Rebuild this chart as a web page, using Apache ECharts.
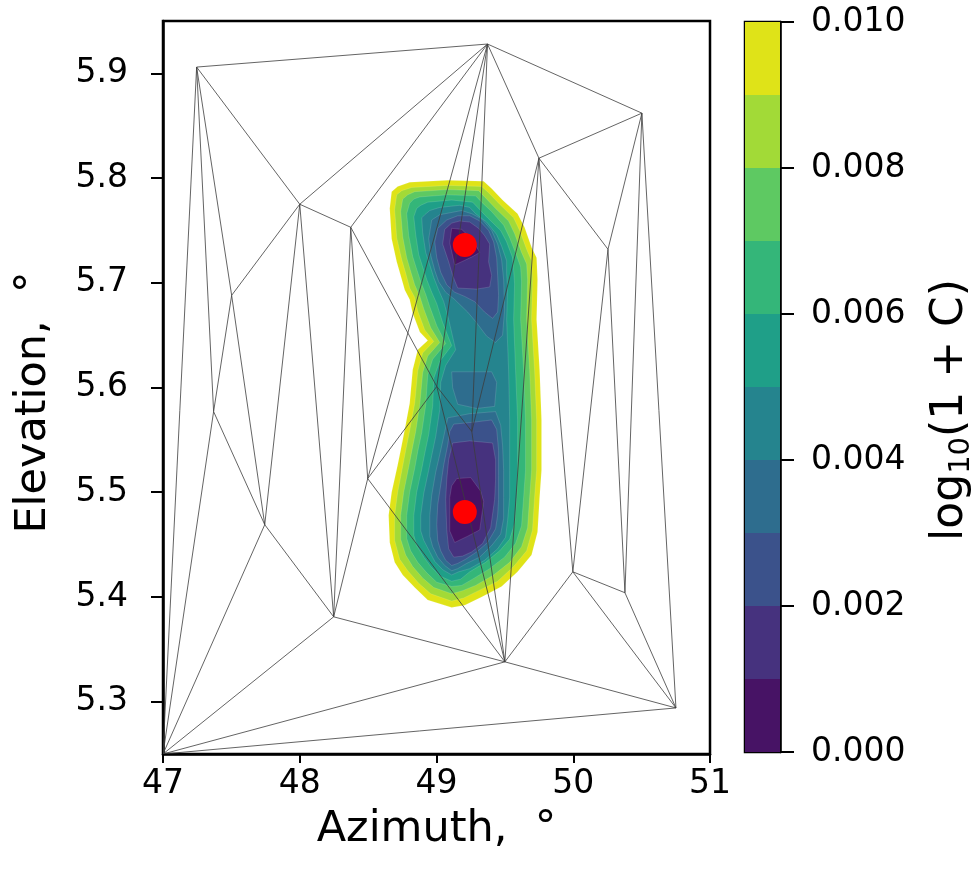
<!DOCTYPE html>
<html><head><meta charset="utf-8">
<script src="https://cdn.jsdelivr.net/npm/echarts@6/dist/echarts.min.js"></script>
<style>html,body{margin:0;padding:0;background:#fff}#c{width:977px;height:878px}</style>
</head><body><div id="c"></div>
<script>
// ---------- axis ticks ----------
const xTicks = [47, 48, 49, 50, 51];
const yTicks = [5.3, 5.4, 5.5, 5.6, 5.7, 5.8, 5.9];
const cbTicks = [0, 0.002, 0.004, 0.006, 0.008, 0.010];
// ---------- contour levels and colours (log10(1+C)) ----------
const levels = [0, 0.001, 0.002, 0.003, 0.004, 0.005, 0.006, 0.007, 0.008, 0.009, 0.010];
const bandColors = ['#471365', '#46327e', '#3b528b', '#2e6d8e', '#25848e', '#1f9f88', '#34b679', '#5ec962', '#a2da37', '#dfe318'];
// ---------- triangulation mesh (azimuth, elevation) ----------
const meshAz = [47.0, 47.246, 49.373, 50.502, 49.749, 48.0, 48.373, 47.502, 50.254, 47.370, 49.002, 49.258, 48.497, 47.744, 49.997, 50.378, 48.248, 49.50, 50.751];
const meshEl = [5.25, 5.906, 5.928, 5.862, 5.819, 5.775, 5.753, 5.688, 5.732, 5.577, 5.601, 5.558, 5.513, 5.469, 5.424, 5.404, 5.381, 5.338, 5.294];
const meshEdges = [
  [0,1],[0,9],[0,13],[0,16],[0,17],[0,18],
  [1,2],[1,5],[1,7],[1,9],
  [5,2],[5,6],[5,7],[5,13],[5,16],
  [6,2],[6,16],[6,12],[6,10],
  [7,9],[7,13],[9,13],[13,16],
  [16,12],[16,17],
  [12,2],[12,10],[12,17],
  [10,2],[10,11],[10,17],
  [11,2],[11,4],[11,17],
  [4,2],[4,3],[4,8],[4,17],[4,14],
  [3,2],[3,8],[3,15],[3,18],
  [8,14],[8,15],
  [17,14],[17,18],[14,15],[14,18],[15,18]
];
// ---------- source positions ----------
const peakAz = [49.207, 49.207];
const peakEl = [5.736, 5.481];
// ---------- filled contour boundaries (azimuth, elevation) ----------
const level010 = [[48.672,5.787],[48.716,5.792],[48.804,5.796],[49.082,5.798],[49.345,5.797],[49.403,5.790],[49.483,5.779],[49.593,5.766],[49.644,5.753],[49.695,5.734],[49.732,5.724],[49.739,5.703],[49.732,5.665],[49.754,5.617],[49.768,5.569],[49.768,5.521],[49.754,5.495],[49.739,5.462],[49.695,5.440],[49.593,5.424],[49.476,5.410],[49.330,5.400],[49.206,5.392],[49.111,5.390],[48.936,5.397],[48.841,5.409],[48.753,5.421],[48.694,5.433],[48.658,5.452],[48.650,5.478],[48.672,5.500],[48.716,5.526],[48.738,5.540],[48.768,5.560],[48.804,5.585],[48.826,5.617],[48.863,5.636],[48.936,5.645],[48.878,5.653],[48.826,5.671],[48.804,5.684],[48.768,5.693],[48.738,5.707],[48.709,5.720],[48.672,5.742],[48.658,5.771]];
const level009 = [[48.709,5.784],[48.746,5.788],[48.819,5.791],[49.082,5.793],[49.330,5.792],[49.381,5.786],[49.462,5.775],[49.564,5.762],[49.608,5.750],[49.659,5.732],[49.695,5.721],[49.702,5.703],[49.695,5.665],[49.717,5.617],[49.732,5.569],[49.732,5.521],[49.717,5.495],[49.702,5.464],[49.659,5.444],[49.564,5.429],[49.447,5.415],[49.308,5.406],[49.199,5.399],[49.111,5.396],[48.958,5.403],[48.870,5.413],[48.790,5.425],[48.731,5.436],[48.694,5.454],[48.694,5.478],[48.716,5.500],[48.753,5.525],[48.775,5.540],[48.804,5.559],[48.841,5.585],[48.863,5.616],[48.899,5.633],[48.980,5.644],[48.914,5.655],[48.863,5.673],[48.841,5.686],[48.804,5.695],[48.775,5.709],[48.746,5.722],[48.709,5.743],[48.694,5.770]];
const level008 = [[48.753,5.780],[48.790,5.784],[48.841,5.787],[49.082,5.789],[49.308,5.788],[49.352,5.782],[49.432,5.771],[49.527,5.759],[49.571,5.747],[49.622,5.729],[49.659,5.718],[49.666,5.703],[49.659,5.665],[49.681,5.617],[49.695,5.569],[49.695,5.521],[49.681,5.495],[49.666,5.466],[49.622,5.448],[49.535,5.433],[49.418,5.421],[49.286,5.411],[49.191,5.406],[49.111,5.403],[48.980,5.409],[48.899,5.418],[48.826,5.429],[48.775,5.440],[48.738,5.455],[48.738,5.478],[48.760,5.500],[48.797,5.524],[48.819,5.539],[48.848,5.558],[48.878,5.584],[48.899,5.614],[48.936,5.630],[49.024,5.643],[48.958,5.657],[48.907,5.675],[48.878,5.687],[48.841,5.698],[48.811,5.711],[48.782,5.724],[48.753,5.744],[48.738,5.768]];
const level007 = [[48.804,5.776],[48.834,5.780],[48.878,5.782],[49.082,5.784],[49.286,5.783],[49.330,5.777],[49.403,5.768],[49.491,5.755],[49.535,5.743],[49.586,5.726],[49.615,5.715],[49.622,5.701],[49.615,5.665],[49.637,5.617],[49.651,5.569],[49.651,5.521],[49.637,5.495],[49.622,5.468],[49.578,5.451],[49.498,5.438],[49.389,5.427],[49.264,5.417],[49.184,5.411],[49.111,5.410],[49.002,5.414],[48.929,5.423],[48.863,5.433],[48.811,5.444],[48.782,5.456],[48.782,5.478],[48.804,5.500],[48.841,5.523],[48.863,5.539],[48.892,5.557],[48.921,5.583],[48.936,5.612],[48.972,5.627],[49.067,5.642],[49.002,5.659],[48.951,5.677],[48.921,5.689],[48.885,5.701],[48.855,5.713],[48.826,5.725],[48.797,5.745],[48.782,5.766]];
const level006 = [[48.855,5.771],[48.885,5.774],[48.936,5.777],[49.111,5.779],[49.264,5.777],[49.308,5.771],[49.374,5.762],[49.469,5.750],[49.513,5.739],[49.556,5.724],[49.564,5.712],[49.571,5.699],[49.564,5.665],[49.578,5.617],[49.593,5.569],[49.593,5.521],[49.586,5.495],[49.571,5.470],[49.535,5.455],[49.462,5.444],[49.359,5.433],[49.243,5.424],[49.177,5.417],[49.111,5.415],[49.024,5.420],[48.958,5.429],[48.907,5.438],[48.855,5.449],[48.834,5.459],[48.834,5.478],[48.855,5.500],[48.892,5.522],[48.914,5.537],[48.943,5.555],[48.972,5.582],[48.980,5.609],[49.024,5.625],[49.111,5.640],[49.045,5.662],[49.002,5.680],[48.965,5.691],[48.929,5.703],[48.899,5.715],[48.870,5.727],[48.848,5.746],[48.834,5.763]];
const level005 = [[48.914,5.765],[48.951,5.769],[49.024,5.772],[49.170,5.774],[49.243,5.772],[49.286,5.766],[49.367,5.758],[49.440,5.746],[49.476,5.735],[49.513,5.721],[49.513,5.709],[49.520,5.695],[49.513,5.665],[49.527,5.617],[49.535,5.569],[49.535,5.521],[49.535,5.495],[49.520,5.473],[49.505,5.457],[49.447,5.446],[49.352,5.435],[49.243,5.427],[49.162,5.424],[49.111,5.421],[49.045,5.426],[48.987,5.434],[48.951,5.443],[48.907,5.454],[48.885,5.463],[48.885,5.478],[48.907,5.499],[48.943,5.521],[48.965,5.535],[48.994,5.553],[49.024,5.579],[49.031,5.605],[49.067,5.621],[49.140,5.636],[49.089,5.665],[49.053,5.682],[49.016,5.693],[48.980,5.705],[48.951,5.717],[48.921,5.729],[48.899,5.748],[48.892,5.762]];
const level004Top = [[48.965,5.760],[49.024,5.765],[49.184,5.769],[49.257,5.766],[49.330,5.761],[49.403,5.750],[49.447,5.737],[49.476,5.722],[49.491,5.703],[49.498,5.674],[49.483,5.650],[49.432,5.643],[49.367,5.649],[49.286,5.663],[49.228,5.672],[49.133,5.684],[49.067,5.691],[49.016,5.701],[48.987,5.712],[48.958,5.726],[48.943,5.742]];
const level004Mid = [[49.111,5.615],[49.403,5.615],[49.440,5.605],[49.425,5.582],[49.294,5.580],[49.155,5.584],[49.118,5.600]];
const level004Bot = [[49.082,5.571],[49.243,5.575],[49.432,5.577],[49.469,5.564],[49.483,5.545],[49.491,5.521],[49.491,5.495],[49.491,5.475],[49.469,5.460],[49.403,5.449],[49.316,5.438],[49.221,5.432],[49.155,5.427],[49.111,5.425],[49.060,5.430],[49.009,5.438],[48.972,5.448],[48.951,5.458],[48.951,5.478],[48.965,5.497],[48.994,5.519],[49.024,5.536],[49.053,5.553]];
const level003Top = [[49.009,5.752],[49.075,5.760],[49.155,5.764],[49.243,5.764],[49.316,5.759],[49.381,5.750],[49.418,5.739],[49.440,5.724],[49.447,5.707],[49.454,5.688],[49.447,5.672],[49.410,5.666],[49.352,5.672],[49.279,5.682],[49.206,5.687],[49.133,5.691],[49.075,5.698],[49.031,5.710],[49.002,5.724],[48.987,5.739]];
const level003Bot = [[49.126,5.565],[49.279,5.567],[49.403,5.569],[49.440,5.560],[49.454,5.540],[49.454,5.516],[49.454,5.493],[49.447,5.478],[49.432,5.465],[49.374,5.452],[49.294,5.443],[49.213,5.436],[49.155,5.432],[49.111,5.430],[49.067,5.435],[49.031,5.444],[49.009,5.454],[49.002,5.469],[49.009,5.488],[49.031,5.507],[49.053,5.526],[49.082,5.545],[49.097,5.558]];
const level002Top = [[49.060,5.751],[49.111,5.757],[49.170,5.759],[49.243,5.758],[49.308,5.752],[49.352,5.745],[49.389,5.737],[49.381,5.720],[49.403,5.707],[49.389,5.696],[49.294,5.694],[49.155,5.695],[49.118,5.707],[49.089,5.720],[49.045,5.737]];
const level002Bot = [[49.118,5.547],[49.243,5.549],[49.410,5.547],[49.432,5.531],[49.432,5.512],[49.425,5.493],[49.410,5.479],[49.396,5.466],[49.337,5.451],[49.257,5.443],[49.191,5.439],[49.126,5.438],[49.089,5.446],[49.075,5.464],[49.067,5.493],[49.075,5.512],[49.089,5.531]];
const level001Top = [[49.111,5.752],[49.184,5.751],[49.264,5.741],[49.316,5.729],[49.264,5.725],[49.133,5.717],[49.097,5.738]];
const level001Bot = [[49.148,5.513],[49.250,5.514],[49.323,5.501],[49.345,5.491],[49.316,5.464],[49.228,5.458],[49.133,5.452],[49.097,5.463],[49.097,5.495],[49.111,5.506]];

const contourPolys = [
  {band: 9, pts: level010}, {band: 8, pts: level009}, {band: 7, pts: level008},
  {band: 6, pts: level007}, {band: 5, pts: level006}, {band: 4, pts: level005},
  {band: 3, pts: level004Top}, {band: 3, pts: level004Mid}, {band: 3, pts: level004Bot},
  {band: 2, pts: level003Top}, {band: 2, pts: level003Bot},
  {band: 1, pts: level002Top}, {band: 1, pts: level002Bot},
  {band: 0, pts: level001Top}, {band: 0, pts: level001Bot}
];

const FONT = 'DejaVu Sans';
const chart = echarts.init(document.getElementById('c'), null, {renderer: 'canvas'});

const option = {
  backgroundColor: '#ffffff',
  animation: false,
  grid: [
    {left: 163, top: 21, width: 547, height: 733, show: true, borderColor: '#000', borderWidth: 2.5, backgroundColor: 'transparent'},
    {left: 745, top: 22, width: 36, height: 730, show: true, borderColor: '#000', borderWidth: 2.5, backgroundColor: 'transparent'}
  ],
  xAxis: [
    {type: 'value', gridIndex: 0, min: 47, max: 51, interval: 1,
     axisLine: {show: true, onZero: false, lineStyle: {color: '#000', width: 2.5}},
     axisTick: {show: true, inside: false, length: 9, lineStyle: {color: '#000', width: 2}},
     axisLabel: {color: '#000', fontFamily: FONT, fontSize: 33, margin: 14, formatter: v => String(v)},
     splitLine: {show: false},
     name: 'Azimuth,  °', nameLocation: 'middle', nameGap: 54,
     nameTextStyle: {color: '#000', fontFamily: FONT, fontSize: 43}},
    {type: 'value', gridIndex: 1, min: 0, max: 1, show: false}
  ],
  yAxis: [
    {type: 'value', gridIndex: 0, min: 5.25, max: 5.95,
     axisLine: {show: true, onZero: false, lineStyle: {color: '#000', width: 2.5}},
     axisTick: {show: true, inside: false, length: 12, lineStyle: {color: '#000', width: 2}, customValues: yTicks},
     axisLabel: {color: '#000', fontFamily: FONT, fontSize: 33, margin: 35, customValues: yTicks, formatter: v => v.toFixed(1)},
     splitLine: {show: false},
     name: 'Elevation,  °', nameLocation: 'middle', nameGap: 108, nameRotate: 90,
     nameTextStyle: {color: '#000', fontFamily: FONT, fontSize: 43, padding: [0, 30, 0, 0]}},
    {type: 'value', gridIndex: 1, position: 'right', min: 0, max: 0.01, interval: 0.002,
     axisLine: {show: true, onZero: false, lineStyle: {color: '#000', width: 2.5}},
     axisTick: {show: true, inside: false, length: 14, lineStyle: {color: '#000', width: 2}},
     axisLabel: {color: '#000', fontFamily: FONT, fontSize: 33, margin: 31, formatter: v => v.toFixed(3)},
     splitLine: {show: false},
     name: '{a|log}{s|10}{a|(1 + C)}', nameLocation: 'middle', nameGap: 146, nameRotate: 90,
     nameTextStyle: {color: '#000', fontFamily: FONT, fontSize: 44, padding: [0, 46, 0, 0],
       rich: {
         a: {fontFamily: FONT, fontSize: 44, color: '#000', lineHeight: 50, verticalAlign: 'middle'},
         s: {fontFamily: FONT, fontSize: 29, color: '#000', lineHeight: 30, verticalAlign: 'bottom'}
       }}}
  ],
  series: [
    {
      type: 'custom', name: 'contours', xAxisIndex: 0, yAxisIndex: 0, clip: true, z: 1,
      data: contourPolys.map((p, i) => [p.pts[0][0], p.pts[0][1], i]),
      encode: {x: 0, y: 1},
      renderItem: function (params, api) {
        const p = contourPolys[api.value(2)];
        const pts = p.pts.map(q => api.coord(q));
        return {type: 'polygon', shape: {points: pts},
          style: {fill: bandColors[p.band], stroke: 'rgba(255,255,255,0.22)', lineWidth: 0.6}};
      }
    },
    {
      type: 'custom', name: 'mesh', xAxisIndex: 0, yAxisIndex: 0, clip: true, z: 2,
      data: meshEdges.map((e, i) => [meshAz[e[0]], meshEl[e[0]], i]),
      encode: {x: 0, y: 1},
      renderItem: function (params, api) {
        const e = meshEdges[api.value(2)];
        const a = api.coord([meshAz[e[0]], meshEl[e[0]]]);
        const b = api.coord([meshAz[e[1]], meshEl[e[1]]]);
        return {type: 'line', shape: {x1: a[0], y1: a[1], x2: b[0], y2: b[1]},
          style: {stroke: '#3c3c3c', lineWidth: 0.8}};
      }
    },
    {
      type: 'scatter', name: 'sources', xAxisIndex: 0, yAxisIndex: 0, z: 3,
      symbol: 'circle', symbolSize: 24,
      itemStyle: {color: '#ff0000', opacity: 1},
      data: peakAz.map((a, i) => [a, peakEl[i]])
    },
    {
      type: 'custom', name: 'colorbar', xAxisIndex: 1, yAxisIndex: 1, z: 1,
      data: bandColors.map((c, i) => [levels[i], levels[i + 1], i]),
      encode: {y: [0, 1]},
      renderItem: function (params, api) {
        const p0 = api.coord([0, api.value(0)]);
        const p1 = api.coord([1, api.value(1)]);
        return {type: 'rect', shape: {x: p0[0], y: p1[1], width: p1[0] - p0[0], height: p0[1] - p1[1]},
          style: {fill: bandColors[api.value(2)]}};
      }
    }
  ]
};
chart.setOption(option);
</script>
</body></html>
